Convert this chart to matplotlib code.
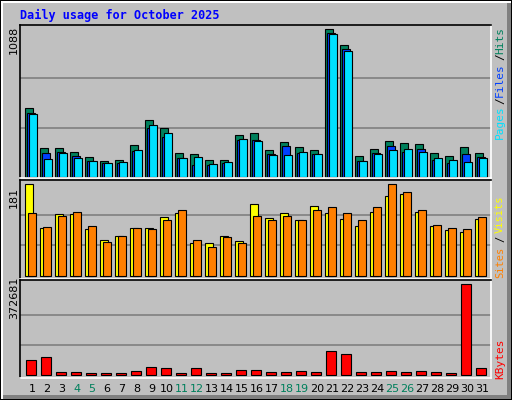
import matplotlib
matplotlib.use("Agg")
import matplotlib.pyplot as plt
from matplotlib.patches import Rectangle
import numpy as np

days = list(range(1, 32))
weekend = [4, 5, 11, 12, 18, 19, 25, 26]
hits = [505, 209, 209, 180, 143, 113, 121, 231, 416, 357, 172, 165, 121, 121, 305, 320,
        194, 254, 217, 194, 1088, 970, 150, 202, 261, 246, 239, 172, 150, 217, 172]
files = [468, 172, 180, 150, 113, 98, 98, 192, 359, 295, 135, 84, 84, 98, 268, 268,
         165, 224, 172, 165, 1058, 940, 113, 172, 224, 180, 202, 121, 98, 165, 143]
pages = [460, 128, 172, 135, 113, 98, 106, 194, 379, 320, 135, 143, 91, 106, 276, 261,
         158, 158, 180, 165, 1051, 925, 113, 165, 194, 202, 180, 135, 121, 106, 135]
visits = [181, 94, 122, 122, 92, 71, 79, 94, 94, 116, 124, 65, 65, 79, 69, 142,
          114, 124, 110, 138, 124, 112, 98, 126, 157, 161, 126, 98, 90, 87, 112]
sites = [124, 96, 118, 126, 98, 67, 79, 94, 92, 110, 130, 71, 57, 77, 65, 118,
         110, 118, 110, 130, 136, 124, 110, 136, 181, 165, 130, 100, 94, 92, 116]
kbytes = [61430, 73700, 12300, 12300, 8200, 8200, 8200, 16400, 32800, 28700, 8200, 28700,
          8200, 8200, 20500, 20500, 12300, 12300, 16400, 12300, 98300, 86000, 12300, 12300,
          16400, 12300, 16400, 12300, 8200, 372681, 28700]

W, H = 512, 400
BG = "#C0C0C0"
fig = plt.figure(figsize=(W/100, H/100), dpi=100, facecolor=BG)

def px_axes(l, t, r, b):
    return fig.add_axes([l/W, 1-b/H, (r-l)/W, (b-t)/H])

x = np.array(days, dtype=float)
xl = (1 - 11/15, 31 + 10/15)

def style(ax, ymax, lo, hi):
    ax.set_facecolor(BG)
    ax.set_xlim(*xl)
    ax.set_ylim(lo, hi)
    for g in (ymax/3, 2*ymax/3):
        ax.axhline(g, color="#808080", lw=1.2, zorder=0)
    ax.set_xticks([]); ax.set_yticks([])
    ax.spines["top"].set_color("black")
    ax.spines["left"].set_color("black")
    ax.spines["right"].set_color("white")
    ax.spines["bottom"].set_color("white")
    for s in ax.spines.values():
        s.set_linewidth(1.2)

kw = dict(edgecolor="black", linewidth=0.8, align="edge")
ax1 = px_axes(20, 25, 491, 178)
style(ax1, 1088, -10, 1120)
o = -6/15
ax1.bar(x + o, hits, 0.5, color="#00805C", **kw)
ax1.bar(x + o + 2/15, files, 0.5, color="#0040FF", **kw)
ax1.bar(x + o + 4/15, pages, 0.5, color="#00E0FF", **kw)

ax2 = px_axes(20, 180, 491, 279)
style(ax2, 181, -6, 189)
o = -6/15
ax2.bar(x + o, visits, 8/15, color="#FFFF00", **kw)
ax2.bar(x + o + 3.3/15, sites, 8/15, color="#FF8000", **kw)

ax3 = px_axes(20, 280, 491, 378)
style(ax3, 372681, -11000, 372681 + 17600)
ax3.bar(x - 5/15, kbytes, 10/15, color="#FF0000", **kw)

for d in days:
    fig.text((31 + (d-1)*15 + 1)/W, 1-389/H, str(d), ha="center", va="center",
             fontsize=8, color="#00805C" if d in weekend else "black")

fig.text(20/W, 1-15/H, "Daily usage for October 2025", fontsize=8.5, color="#0000FF",
         family="DejaVu Sans Mono", weight="bold", ha="left", va="center")

for s, yc in (("1088", 40), ("181", 197), ("372681", 298)):
    fig.text(14/W, 1-yc/H, s, rotation=90, fontsize=8, ha="center", va="center")

def rt(s, yc, c, fs=8):
    fig.text(500/W, 1-yc/H, s, rotation=90, fontsize=fs, ha="center", va="center",
             color=c, family="DejaVu Sans Mono")
rt("Hits", 40, "#00805C"); rt("/", 57, "black"); rt("Files", 80, "#0040FF")
rt("/", 101, "black"); rt("Pages", 122, "#00E0FF")
rt("Visits", 214, "#FFFF00", 7.5); rt("/", 239, "black", 7.5); rt("Sites", 262, "#FF8000", 7.5)
rt("KBytes", 359, "#FF0000")

# bevel border
def prect(l, t, w, h, c):
    fig.patches.append(Rectangle((l/W, 1-(t+h)/H), w/W, h/H, transform=fig.transFigure,
                                 color=c, lw=0))
prect(0, 0, W, 1, "black"); prect(0, H-1, W, 1, "black")
prect(0, 0, 1, H, "black"); prect(W-1, 0, 1, H, "black")
prect(1, 1, W-2, 2, "white"); prect(1, 1, 2, H-2, "white")
prect(W-5, 3, 4, H-4, "#808080"); prect(3, H-5, W-4, 4, "#808080")

fig.savefig("out.png", dpi=100, facecolor=BG)
